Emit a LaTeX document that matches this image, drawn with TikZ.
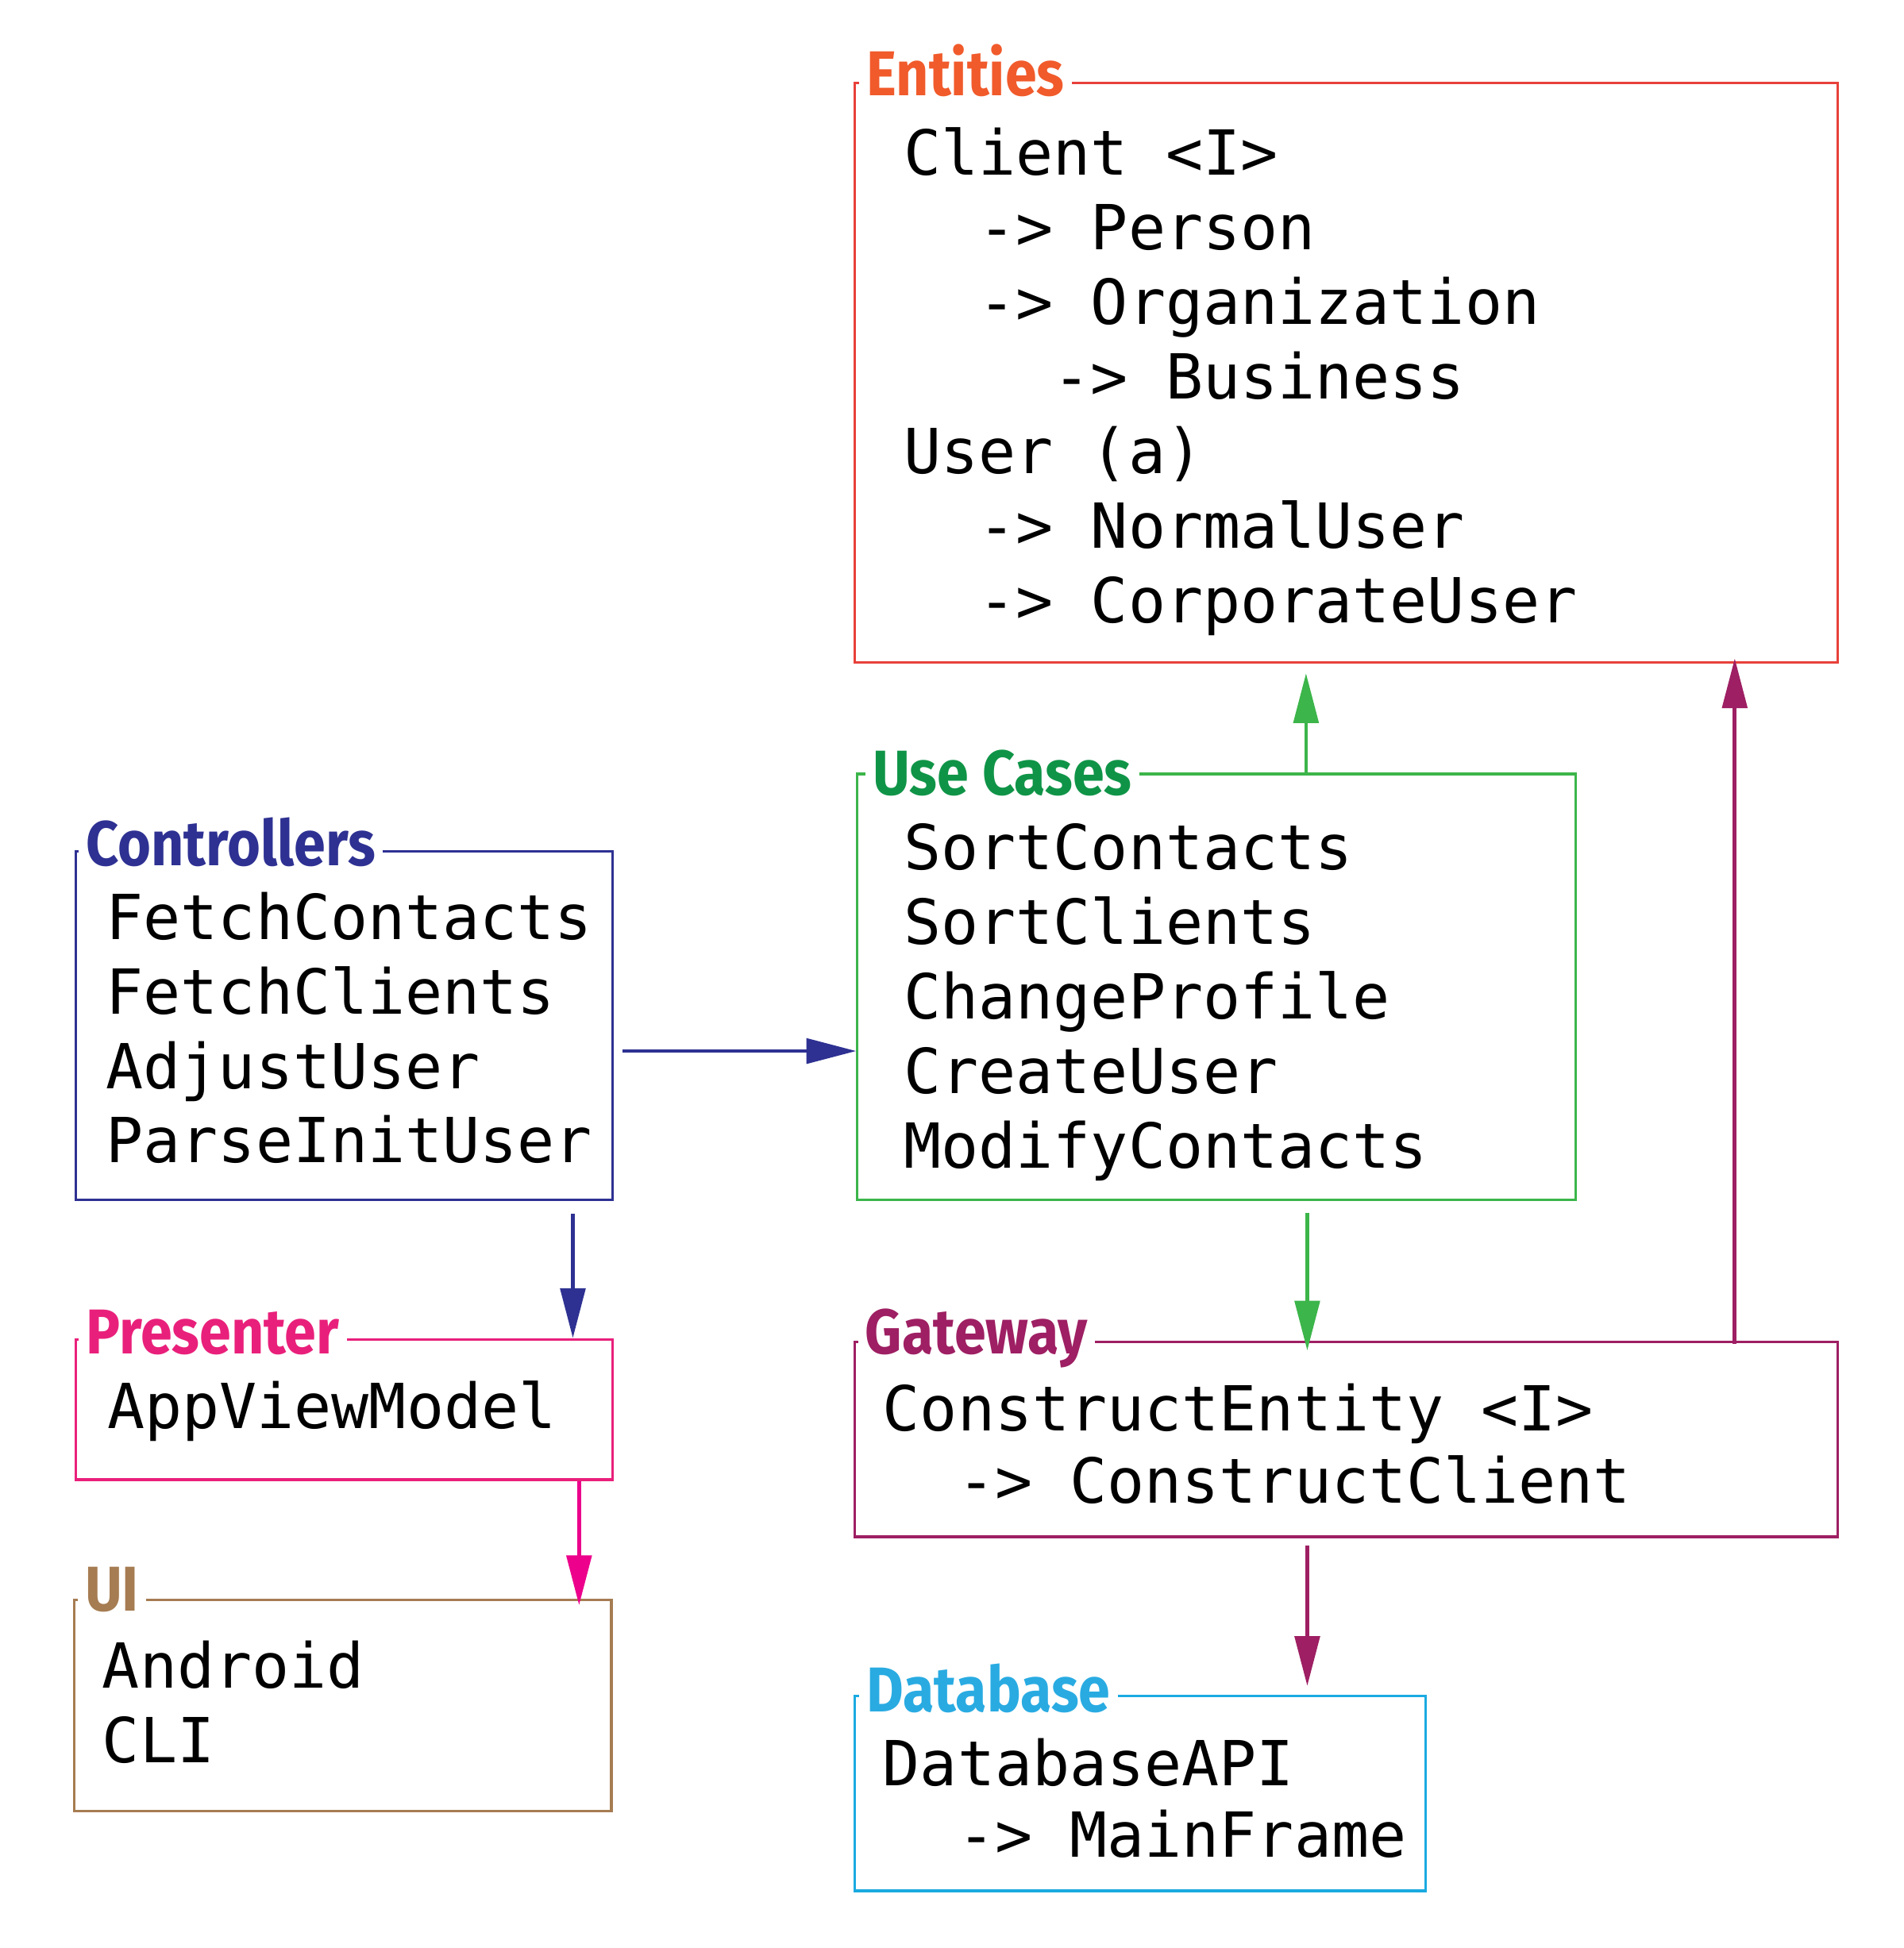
\documentclass[tikz,border=0pt]{standalone}
\usepackage{fontspec}
\setmonofont{DejaVu Sans Mono}
\newfontfamily\hfont[FakeStretch=0.9]{Fira Sans}
\usetikzlibrary{arrows.meta,calc,fit}
\definecolor{entC}{HTML}{E8413A}
\definecolor{entT}{HTML}{F15A2B}
\definecolor{ucC}{HTML}{3CB54A}
\definecolor{ucT}{HTML}{0F9447}
\definecolor{ctlC}{HTML}{2E3192}
\definecolor{preC}{HTML}{E9207B}
\definecolor{preA}{HTML}{EC008C}
\definecolor{uiC}{HTML}{A67C52}
\definecolor{gwC}{HTML}{9E1F63}
\definecolor{dbC}{HTML}{1BAAE1}
\definecolor{dbT}{HTML}{29ABE2}
\tikzset{
  box/.style={draw, line width=1pt, inner sep=0pt},
  ttl/.style={font=\hfont\bfseries\fontsize{25.5}{30}\selectfont, fill=white, inner xsep=3pt, inner ysep=1pt, anchor=base west},
  body/.style={font=\ttfamily\fontsize{25}{30}\selectfont, align=left, anchor=base west, inner sep=0pt},
  arr/.style={line width=1.5pt, -{Triangle[length=20pt,width=10pt]}}
}
\begin{document}
\begin{tikzpicture}[x=0.5pt,y=-0.5pt]
\useasboundingbox[fill=white] (0,0) rectangle (1532,1568);
% boxes
\coordinate (e1) at (688,67);  \coordinate (e2) at (1479,533);
\node[box, draw=entC, fit=(e1)(e2)] (ent) {};
\coordinate (u1) at (690,623); \coordinate (u2) at (1268,966);
\node[box, draw=ucC, fit=(u1)(u2)] (uc) {};
\coordinate (c1) at (61,685);  \coordinate (c2) at (493,966);
\node[box, draw=ctlC, fit=(c1)(c2)] (ctl) {};
\coordinate (p1) at (61,1078); \coordinate (p2) at (493,1191);
\node[box, draw=preC, fit=(p1)(p2)] (pres) {};
\coordinate (i1) at (60,1288); \coordinate (i2) at (492,1458);
\node[box, draw=uiC, fit=(i1)(i2)] (ui) {};
\coordinate (g1) at (688,1080); \coordinate (g2) at (1479,1237);
\node[box, draw=gwC, fit=(g1)(g2)] (gw) {};
\coordinate (d1) at (688,1365); \coordinate (d2) at (1147,1522);
\node[box, draw=dbC, fit=(d1)(d2)] (db) {};
% titles
\node[ttl, text=entT] (entTitle) at (691,77) {Entities\hspace{3pt}};
\node[ttl, text=ucT] (ucTitle) at (696,640) {Use Cases};
\node[ttl, text=ctlC] (ctlTitle) at (63,697) {Controllers};
\node[ttl, text=preC] (preTitle) at (63,1090) {Presenter};
\node[ttl, text=uiC] (uiTitle) at (62,1297) {UI\hspace{3pt}};
\node[ttl, text=gwC] (gwTitle) at (690,1090) {Gateway\hspace{1pt}};
\node[ttl, text=dbT] (dbTitle) at (691,1378) {Database\hspace{3pt}};
% bodies (anchored at the baseline of the last line)
\node[body] (entTxt) at (727,501) {Client <I>\\\phantom{xx}-> Person\\\phantom{xx}-> Organization\\\phantom{xxxx}-> Business\\User (a)\\\phantom{xx}-> NormalUser\\\phantom{xx}-> CorporateUser};
\node[body] (ucTxt) at (727,940) {SortContacts\\SortClients\\ChangeProfile\\CreateUser\\ModifyContacts};
\node[body] (ctlTxt) at (85,936) {FetchContacts\\FetchClients\\AdjustUser\\ParseInitUser};
\node[body] (preTxt) at (86,1150) {AppViewModel};
\node[body] (uiTxt) at (82,1419) {Android\\CLI};
\node[body, font=\ttfamily\fontsize{25}{29}\selectfont] (gwTxt) at (710,1210) {ConstructEntity <I>\\\phantom{xx}-> ConstructClient};
\node[body, font=\ttfamily\fontsize{25}{29}\selectfont] (dbTxt) at (710,1495) {DatabaseAPI\\\phantom{xx}-> MainFrame};
% connectors
\draw[arr, ucC] ($(uc.north west)+(362,0)$) -- ($(ent.south west)+(364,8)$);
\draw[arr, ctlC] ($(ctl.north east)+(7,162)$) -- ($(uc.north west)+(0,224)$);
\draw[arr, ctlC] ($(ctl.south west)+(401,10)$) -- ($(pres.north west)+(401,0)$);
\draw[arr, preA] ($(pres.south west)+(406,0)$) -- ($(ui.north west)+(407,5)$);
\draw[arr, ucC] ($(uc.south west)+(363,9)$) -- ($(gw.north west)+(365,8)$);
\draw[arr, gwC] ($(gw.north west)+(709,3)$) -- ($(ent.south west)+(709,-4)$);
\draw[arr, gwC] ($(gw.south west)+(365,6)$) -- ($(db.north west)+(365,-7)$);
\end{tikzpicture}
\end{document}
